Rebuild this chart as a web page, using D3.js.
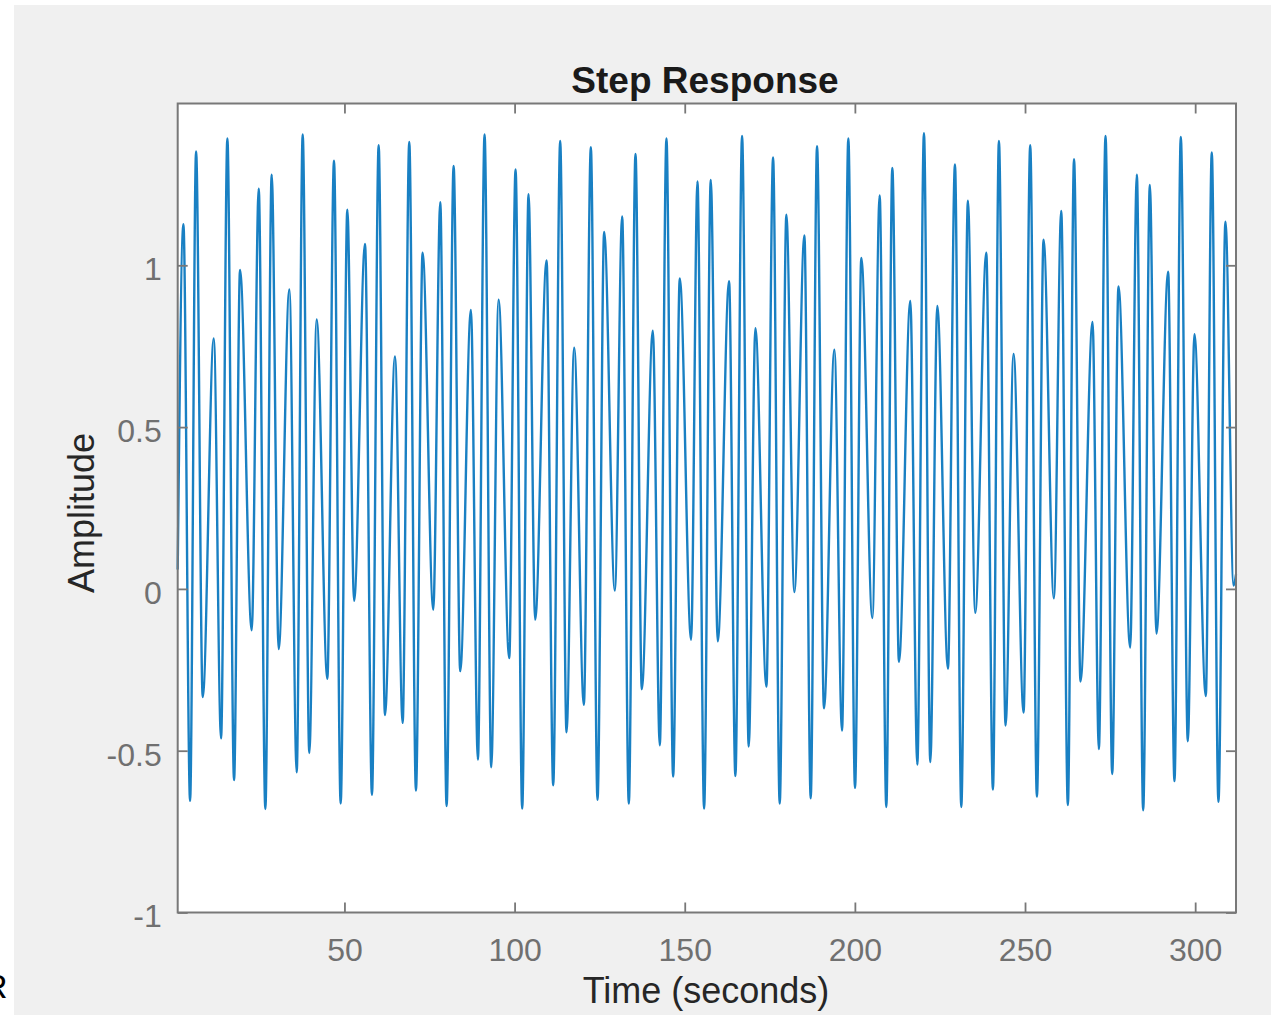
<!DOCTYPE html>
<html>
<head>
<meta charset="utf-8">
<script src="https://cdn.jsdelivr.net/npm/d3@7"></script>
<style>
  html, body { margin: 0; padding: 0; background: #ffffff; }
  svg { display: block; }
  text { font-family: "Liberation Sans", Arial, Helvetica, sans-serif; }
</style>
</head>
<body>
<svg id="chart" width="1271" height="1015"></svg>
<script>
const timeSeconds = [
  1.0, 2.68, 4.64, 6.40, 8.36, 11.59, 13.74, 15.60, 17.56, 19.32, 22.75, 24.81, 26.76, 28.62, 30.68, 33.81, 35.97, 37.73, 39.68, 41.84, 44.97, 46.93, 48.89, 50.85, 52.85,
  56.04, 58.09, 60.05, 61.91, 64.85, 67.10, 69.05, 71.01, 72.97, 76.10, 78.16, 80.02, 82.08, 84.03, 87.16, 89.22, 91.18, 93.14, 95.30, 98.42, 100.29, 102.24, 104.10, 106.06,
  109.39, 111.35, 113.40, 115.26, 117.51, 120.35, 122.41, 124.37, 126.32, 129.46, 131.61, 133.57, 135.53, 137.39, 140.62, 142.67, 144.63, 146.59, 148.55, 151.87, 153.74, 155.69, 157.65,
  159.71, 163.03, 164.89, 166.85, 168.81, 170.77, 174.00, 175.96, 177.91, 179.87, 182.22, 185.16, 187.02, 188.88, 190.93, 193.97, 196.22, 198.08, 200.04, 201.90, 205.13, 207.28, 209.24, 211.00,
  212.96, 216.29, 218.35, 220.30, 222.17, 224.22, 227.35, 229.41, 231.27, 233.22, 235.38, 238.61, 240.57, 242.33, 244.29, 246.64, 249.57, 251.53, 253.49, 255.45, 258.48, 260.64, 262.59, 264.40,
  266.31, 269.84, 271.70, 273.66, 275.62, 277.47, 280.90, 282.86, 284.72, 286.68, 288.63, 292.06, 293.92, 295.78, 297.84, 299.79, 303.12, 304.88, 306.84, 308.90, 311.30, 312.00
];
const amplitude = [
  0.06, 1.127, -0.655, 1.352, -0.334, 0.774, -0.462, 1.392, -0.591, 0.986, -0.128, 1.237, -0.680, 1.280, -0.186, 0.925, -0.567, 1.404, -0.507, 0.833, -0.278, 1.323, -0.663, 1.172, -0.037,
  1.066, -0.636, 1.371, -0.390, 0.718, -0.414, 1.381, -0.623, 1.039, -0.064, 1.195, -0.671, 1.307, -0.254, 0.862, -0.527, 1.404, -0.551, 0.894, -0.214, 1.296, -0.679, 1.220, -0.095,
  1.015, -0.607, 1.384, -0.443, 0.745, -0.358, 1.365, -0.652, 1.103, -0.005, 1.151, -0.663, 1.344, -0.310, 0.798, -0.483, 1.392, -0.580, 0.959, -0.157, 1.259, -0.679, 1.264,
  -0.162, 0.951, -0.578, 1.400, -0.487, 0.806, -0.302, 1.333, -0.663, 1.156, -0.010, 1.092, -0.647, 1.368, -0.369, 0.739, -0.438, 1.392, -0.615, 1.023, -0.090, 1.216, -0.674, 1.301,
  -0.225, 0.890, -0.543, 1.408, -0.535, 0.874, -0.246, 1.312, -0.674, 1.200, -0.074, 1.039, -0.620, 1.384, -0.422, 0.726, -0.382, 1.371, -0.642, 1.079, -0.029, 1.168, -0.668, 1.328,
  -0.286, 0.825, -0.495, 1.400, -0.572, 0.935, -0.181, 1.280, -0.684, 1.248, -0.138, 0.980, -0.594, 1.397, -0.471, 0.787, -0.331, 1.349, -0.658, 1.135, 0.010, 0.045
];
const xTicks = [50, 100, 150, 200, 250, 300];
const yTicks = [-1, -0.5, 0, 0.5, 1];
const xDomain = [1, 312];
const yDomain = [-1, 1.5];
const titleText = "Step Response";
const xLabelText = "Time (seconds)";
const yLabelText = "Amplitude";

// ---- layout ----
const svg = d3.select("#chart");
const box = { left: 177.7, right: 1236, top: 103.5, bottom: 912.5 };

// figure background
svg.append("rect").attr("x", 14).attr("y", 5).attr("width", 1271 - 14).attr("height", 1015 - 5).attr("fill", "#f0f0f0");
// stray glyph at the left edge (only partly visible in the reference)
svg.append("text").attr("x", -17).attr("y", 998).attr("font-size", 34).attr("fill", "#000").text("R");

const x = d3.scaleLinear().domain(xDomain).range([box.left, box.right]);
const y = d3.scaleLinear().domain(yDomain).range([box.bottom, box.top]);

// plot area
svg.append("rect").attr("x", box.left).attr("y", box.top)
  .attr("width", box.right - box.left).attr("height", box.bottom - box.top)
  .attr("fill", "#ffffff");

svg.append("clipPath").attr("id", "clip").append("rect")
  .attr("x", box.left - 2).attr("y", box.top).attr("width", box.right - box.left + 4).attr("height", box.bottom - box.top);

const points = timeSeconds.map((t, i) => [t, amplitude[i]]);
const line = d3.line().x(d => x(d[0])).y(d => y(d[1])).curve(d3.curveMonotoneX);
svg.append("path").datum(points)
  .attr("clip-path", "url(#clip)")
  .attr("d", line)
  .attr("fill", "none")
  .attr("stroke", "#0072BD")
  .attr("stroke-width", 2.4)
  .attr("stroke-opacity", 0.9)
  .attr("stroke-linejoin", "round");

const axisColor = "#787878";
const tickLen = 10;
const fmt = d => String(d); // plain hyphen minus like the reference

const gBottom = svg.append("g").attr("transform", `translate(0,${box.bottom})`)
  .call(d3.axisBottom(x).tickValues(xTicks).tickSize(-tickLen).tickPadding(26).tickFormat(fmt));
const gTop = svg.append("g").attr("transform", `translate(0,${box.top})`)
  .call(d3.axisTop(x).tickValues(xTicks).tickSize(-tickLen).tickFormat(""));
const gLeft = svg.append("g").attr("transform", `translate(${box.left},0)`)
  .call(d3.axisLeft(y).tickValues(yTicks).tickSize(-tickLen).tickPadding(16).tickFormat(fmt));
const gRight = svg.append("g").attr("transform", `translate(${box.right},0)`)
  .call(d3.axisRight(y).tickValues(yTicks).tickSize(-tickLen).tickFormat(""));

[gBottom, gTop, gLeft, gRight].forEach(g => {
  g.select(".domain").remove();
  g.selectAll(".tick line").attr("stroke", axisColor).attr("stroke-width", 1.8);
});
gBottom.selectAll(".tick text").attr("font-size", 32).attr("fill", "#707070")
  .attr("font-family", "'Liberation Sans', Arial, sans-serif");
gLeft.selectAll(".tick text").attr("font-size", 32).attr("fill", "#707070")
  .attr("font-family", "'Liberation Sans', Arial, sans-serif").attr("dy", "0.45em");

// box outline
svg.append("rect").attr("x", box.left).attr("y", box.top)
  .attr("width", box.right - box.left).attr("height", box.bottom - box.top)
  .attr("fill", "none").attr("stroke", axisColor).attr("stroke-width", 2);

// labels
svg.append("text").attr("x", 705).attr("y", 93).attr("text-anchor", "middle")
  .attr("font-size", 37).attr("font-weight", "bold").attr("fill", "#1a1a1a").text(titleText);
svg.append("text").attr("x", 706).attr("y", 1003).attr("text-anchor", "middle")
  .attr("font-size", 36).attr("fill", "#262626").text(xLabelText);
svg.append("text").attr("transform", `translate(94,513) rotate(-90)`).attr("text-anchor", "middle")
  .attr("font-size", 36).attr("fill", "#262626").text(yLabelText);
</script>
</body>
</html>
